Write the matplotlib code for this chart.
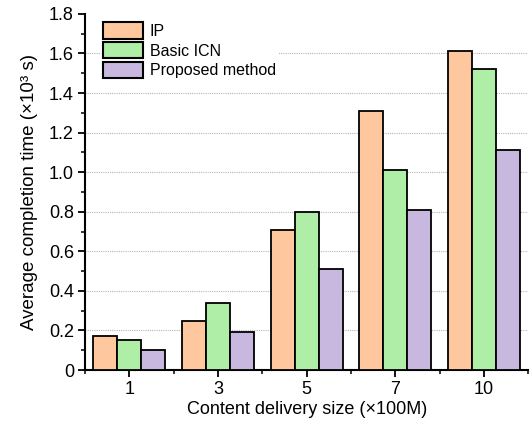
import matplotlib
matplotlib.use("Agg")
import matplotlib.pyplot as plt
import numpy as np
from matplotlib.ticker import MultipleLocator, FixedLocator

plt.rcParams['font.family'] = ['Liberation Sans', 'DejaVu Sans']

categories = ['1', '3', '5', '7', '10']
series_names = ['IP', 'Basic ICN', 'Proposed method']
ip = [0.17, 0.25, 0.71, 1.31, 1.61]
icn = [0.15, 0.34, 0.80, 1.01, 1.52]
proposed = [0.10, 0.19, 0.51, 0.81, 1.11]
colors = ['#FFC79D', '#AFEEA6', '#C8B8E0']
yticks = [0, 0.2, 0.4, 0.6, 0.8, 1.0, 1.2, 1.4, 1.6, 1.8]
ytick_labels = ['0', '0.2', '0.4', '0.6', '0.8', '1.0', '1.2', '1.4', '1.6', '1.8']

fig = plt.figure(figsize=(5.29, 4.28), dpi=100)
ax = fig.add_axes([0.1607, 0.1355, 0.838, 0.832])

x = np.arange(1, len(categories) + 1)
w = 0.27
for i, (vals, name) in enumerate(zip([ip, icn, proposed], series_names)):
    ax.bar(x + (i - 1) * w, vals, w, color=colors[i], edgecolor='black',
           linewidth=1.3, label=name, zorder=3)

for yv in yticks[1:-1]:
    ax.axhline(yv, color='#b5b5b5', linestyle=(0, (1, 1)), linewidth=0.8, zorder=1)

ax.set_xlim(0.5, len(categories) + 0.5)
ax.set_ylim(0, 1.8)
ax.set_xticks(x)
ax.set_xticklabels(categories)
ax.xaxis.set_minor_locator(FixedLocator(np.arange(0.5, len(categories) + 1, 1.0)))
ax.set_yticks(yticks)
ax.set_yticklabels(ytick_labels)
ax.yaxis.set_minor_locator(MultipleLocator(0.1))

for s in ['top', 'right']:
    ax.spines[s].set_visible(False)
for s in ['left', 'bottom']:
    ax.spines[s].set_linewidth(1.5)

ax.tick_params(axis='both', which='major', direction='out', length=5, width=1.3,
               labelsize=13, pad=3)
ax.tick_params(axis='both', which='minor', direction='out', length=3, width=1.1)

ax.set_xlabel('Content delivery size (×100M)', fontsize=13, labelpad=2)
ax.set_ylabel('Average completion time (×10³ s)', fontsize=13.5, labelpad=8)

leg = ax.legend(loc='upper left', bbox_to_anchor=(0.015, 1.008), fontsize=11.5,
                handlelength=2.5, handleheight=1.2, labelspacing=0.2,
                handletextpad=0.45, borderpad=0.2, frameon=True, fancybox=False)
leg.get_frame().set_edgecolor('none')
leg.get_frame().set_facecolor('white')
leg.get_frame().set_alpha(1)
for p in leg.get_patches():
    p.set_linewidth(1.5)

fig.savefig('out.png', dpi=100)
